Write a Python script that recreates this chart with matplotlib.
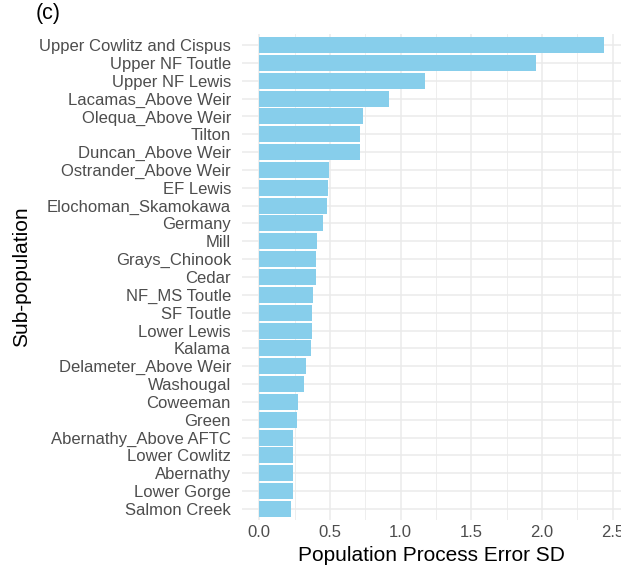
import numpy as np
import matplotlib
matplotlib.use("Agg")
from matplotlib import pyplot as plt

plt.rcParams['font.family'] = ['Liberation Sans', 'DejaVu Sans']

# sub-populations, ordered from largest to smallest process error SD
poblaciones = ["Upper Cowlitz and Cispus", "Upper NF Toutle", "Upper NF Lewis",
               "Lacamas_Above Weir", "Olequa_Above Weir", "Tilton",
               "Duncan_Above Weir", "Ostrander_Above Weir", "EF Lewis",
               "Elochoman_Skamokawa", "Germany", "Mill", "Grays_Chinook",
               "Cedar", "NF_MS Toutle", "SF Toutle", "Lower Lewis", "Kalama",
               "Delameter_Above Weir", "Washougal", "Coweeman", "Green",
               "Abernathy_Above AFTC", "Lower Cowlitz", "Abernathy",
               "Lower Gorge", "Salmon Creek"]
sd_error = [2.44, 1.96, 1.17, 0.92, 0.735, 0.715, 0.715, 0.492, 0.486,
            0.48, 0.45, 0.405, 0.40, 0.40, 0.381, 0.37, 0.37, 0.365,
            0.334, 0.315, 0.273, 0.268, 0.24, 0.238, 0.238, 0.238, 0.228]
xticks = [0.0, 0.5, 1.0, 1.5, 2.0, 2.5]

W, H = 621, 571
fig = plt.figure(figsize=(W / 100, H / 100), dpi=100)
fig.patch.set_facecolor('white')

# panel box in pixels (left, top, right, bottom)
px0, py0, px1, py1 = 242, 34.3, 621.5, 519.7
ax = fig.add_axes([px0 / W, 1 - py1 / H, (px1 - px0) / W, (py1 - py0) / H])

pos = np.arange(len(poblaciones))
ax.barh(pos, sd_error, height=0.9, color='#87CEEB', zorder=2)

xmax = max(sd_error)
ax.set_xlim(-0.05 * xmax, 1.05 * xmax)
ax.set_ylim(len(poblaciones) - 1 + 0.6, -0.6)

ax.set_xticks(xticks)
ax.set_xticklabels([f"{t:.1f}" for t in xticks])
ax.set_xticks(np.arange(0.25, 2.6, 0.5), minor=True)
ax.set_yticks(pos)
ax.set_yticklabels(poblaciones)

ax.grid(True, which='major', color='#EBEBEB', linewidth=1.1, zorder=0)
ax.grid(True, which='minor', axis='x', color='#EBEBEB', linewidth=0.6, zorder=0)
ax.set_axisbelow(True)

for s in ax.spines.values():
    s.set_visible(False)
ax.tick_params(axis='both', which='both', length=0)
ax.tick_params(axis='y', labelsize=12, labelcolor='#4D4D4D', pad=8)
ax.tick_params(axis='x', labelsize=12, labelcolor='#4D4D4D', pad=4)

ax.set_xlabel("Population Process Error SD", fontsize=15, color='black', labelpad=4)
ax.set_ylabel("Sub-population", fontsize=15, color='black', labelpad=6)

fig.text(36 / W, 1 - 13 / H, "(c)", fontsize=15.5, va='center', ha='left')

fig.savefig("out.png", dpi=100, facecolor='white')
